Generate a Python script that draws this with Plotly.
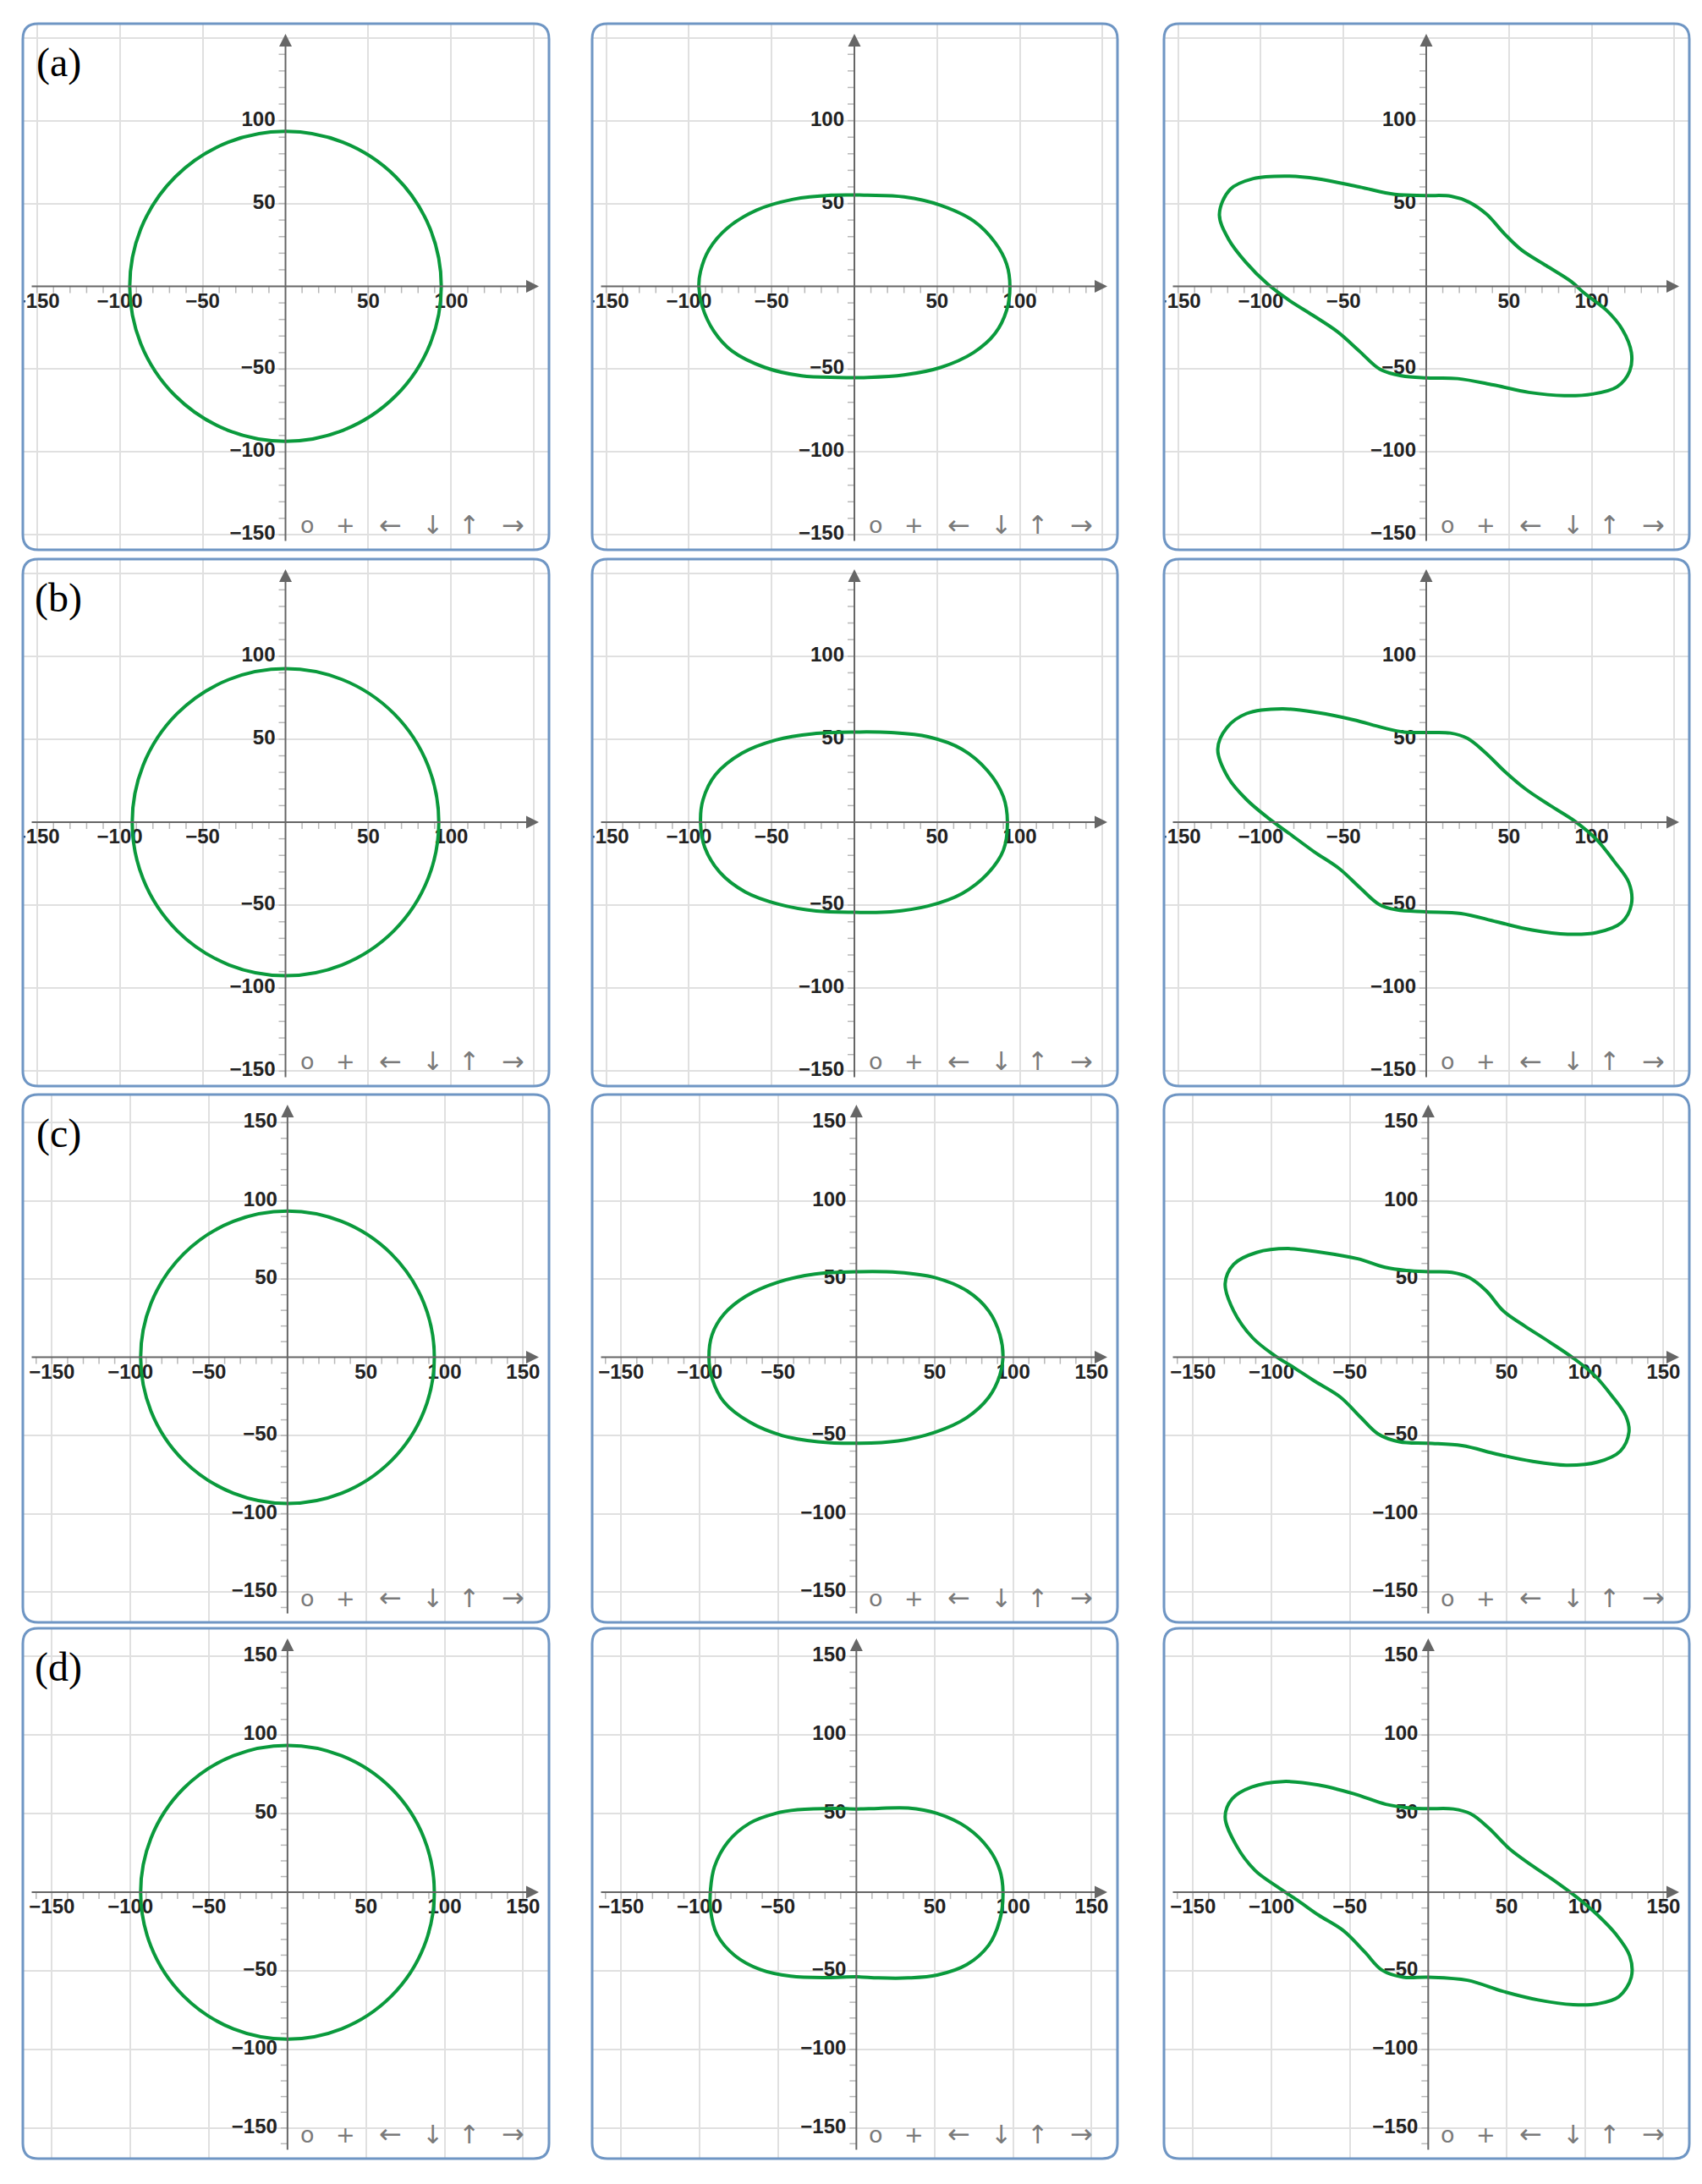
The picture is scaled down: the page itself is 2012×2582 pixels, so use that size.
import plotly.graph_objects as go

W, H = 2012, 2582
# the page body adds an 8px margin around the plot div, so the figure is drawn
# a little smaller and every pixel position is shifted by that margin
OFF = 8
FIG_W, FIG_H = W - 2 * OFF, H - 2 * OFF

# ---- values (GeoGebra units) ----
# left column: circles, rows (a)-(d)
circle_rx = [94, 92.5, 93.5, 93.5]
circle_ry = [93.5, 92.5, 93.5, 93.5]

# middle column
mid_a_x = [8, 30, 52, 72, 85, 92, 94, 92, 85, 72, 52, 30, 8, -10, -32, -54, -74, -85, -92, -94, -93, -88, -77, -59, -37, -14]
mid_a_y = [55, 54, 49, 39.5, 26.5, 13.5, 0, -14.5, -28.5, -40, -49, -53.5, -55, -55, -54, -49, -39, -27, -12, 0, 9, 22, 35, 46, 52.5, 55]

mid_b_x = [0, 22, 44.5, 65, 80.5, 90, 92.5, 90, 80.5, 65, 44.5, 22, 0, -23, -45.5, -66, -81.5, -90.5, -93, -91.5, -84, -68, -47.5, -25]
mid_b_y = [54.3, 54, 51.5, 44, 31, 15.5, 0, -17, -31, -43, -50.5, -54, -54.3, -53.5, -49.5, -42, -30, -15, 0, 13.5, 28.5, 41.5, 49.5, 53.3]

mid_c_x = [1, 26.5, 50, 70.5, 84.5, 91.5, 93.5, 91.5, 84.5, 70.5, 50, 26.5, 1, -24.5, -47.5, -68, -84.5, -92, -94, -92, -84.5, -70.5, -50, -26.5]
mid_c_y = [54.7, 54.3, 51, 42.5, 29.5, 14.5, 0, -11.5, -25.5, -38.5, -48, -53.5, -55, -54, -50, -41.5, -28.5, -13.5, 0, 14.5, 27.5, 39, 48, 53.2]

mid_d_x = [0, 14, 33, 51.5, 70.5, 84.5, 91.5, 93.5, 91.5, 84.5, 70.5, 51.5, 33, 14, 0, -19, -42, -61, -77.5, -89, -93, -93, -90.5, -82, -68, -51.5, -37.5, -14]
mid_d_y = [53, 53.4, 53.6, 50.2, 41.2, 27.6, 14, 0, -17.5, -33.5, -46, -52.7, -54.5, -54.5, -53.8, -54.3, -53.4, -49.3, -40.3, -26.7, -11, 2, 16.3, 32, 44, 50.2, 52.5, 53.4]

# right column
right_a_x = [-125, -118.5, -104.5, -85.5, -66, -40.5, -19, 0, 15, 25.5, 36.5, 47, 57.5, 72.5, 87.5, 96, 109, 118.5,
             124, 123, 115.5, 100.5, 83.5, 62, 40.5, 19, 0, -15, -28, -40.5, -53.5, -68.5, -83.5, -96, -109, -119.5]
right_a_y = [43.5, 58.5, 65, 66.5, 65, 60, 55.5, 54.8, 54.4, 51, 43.5, 32, 22, 12.5, 3, -4.5, -14.5, -26,
             -40, -51, -60.5, -65, -66, -64, -59.5, -55.7, -55.3, -54, -50, -39, -27.5, -17.5, -8, 1.5, 14.5, 28.5]

right_b_x = [-126, -120.5, -108.5, -87, -65.5, -44, -26.5, -13.5, 0, 14.5, 25, 36, 47, 60, 75, 90, 103, 113.5,
             122.5, 124, 118, 103, 85.5, 64, 42.5, 21, 0, -18, -28.5, -39.5, -52.5, -67.5, -82.5, -95.5, -108.5, -119.5]
right_b_y = [44, 57, 65.5, 68.3, 66, 61.7, 57, 54.3, 54, 53.7, 50.5, 41.7, 31, 20, 10, 0.5, -10.5, -23.5,
             -36.5, -49.5, -60.5, -66.5, -67.5, -65, -60, -55, -54, -52.8, -49.5, -40, -28, -18, -7, 2.5, 13.5, 26.5]

right_c_x = [-129.5, -124, -109.5, -89.5, -67.5, -45, -27.5, -14, 0, 15, 26, 37, 48, 61.5, 77, 92.5, 106, 117,
             126, 128, 122.5, 108, 88, 66, 44, 21.5, 0, -18.5, -32, -43, -56, -72, -85, -98.5, -112, -124]
right_c_y = [47, 59.5, 67, 69.5, 67, 63, 57.5, 55.5, 54.7, 54.3, 51, 42.5, 29.5, 20, 10, -0.5, -11.5, -24.5,
             -37.5, -48, -60, -67, -69, -66.5, -62, -56.5, -55, -54, -49, -38.5, -25.5, -15.5, -7, 1.5, 12.5, 29.5]

right_d_x = [-129.5, -125, -112.5, -92.5, -70, -47.5, -27, -11.5, 0, 16, 27, 38.5, 52, 65.5, 81, 94.5, 108, 119.5,
             128.5, 129.5, 121.5, 108, 92.5, 70, 47.5, 25, 0, -16, -29.5, -40.5, -54, -70, -83.5, -97, -110.5, -122.5]
right_d_y = [48, 59.5, 67, 70.5, 68.3, 62.7, 56, 53.6, 53.2, 53, 50, 41, 27.5, 17.5, 7, -3, -14.5, -26.5,
             -40.5, -54, -66.5, -71, -71.5, -68.5, -63, -56, -54, -54, -49.5, -38, -24.5, -14.5, -5, 4, 14, 30]

curves = [
    [None, (mid_a_x, mid_a_y), (right_a_x, right_a_y)],
    [None, (mid_b_x, mid_b_y), (right_b_x, right_b_y)],
    [None, (mid_c_x, mid_c_y), (right_c_x, right_c_y)],
    [None, (mid_d_x, mid_d_y), (right_d_x, right_d_y)],
]

row_letters = ['(a)', '(b)', '(c)', '(d)']

# axis ticks / labels
grid_vals = [-150, -100, -50, 50, 100, 150]
minor_ticks = [v for v in range(-160, 170, 10) if v != 0]
x_labels = [[-150, -100, -50, 50, 100], [-150, -100, -50, 50, 100], grid_vals, grid_vals]
y_labels = [[-150, -100, -50, 50, 100], [-150, -100, -50, 50, 100], grid_vals, grid_vals]

# visible window per row
row_xrange = [(-158.5, 159), (-158.5, 159), (-168.5, 166.5), (-168.5, 166.5)]
row_yrange = [(-159, 158.5), (-159, 158.5), (-169.5, 168), (-169.5, 168)]

toolbar = ['o', '+', '\u2190', '\u2193', '\u2191', '\u2192']

# ---- layout geometry (pixels of the final page) ----
col_px = [(27, 649), (700, 1321), (1376, 1997)]
row_px = [(28, 650), (661, 1284), (1294, 1918), (1925, 2552)]
toolbar_dx = [-286, -241, -188, -138, -95, -43]
toolbar_size = [27, 27, 32, 30, 30, 32]

GREEN = '#0a9a3c'
AXIS = '#666666'
GRID = '#e0e0e0'
BORDER = '#6f96c4'
LABEL_FONT = dict(family='Liberation Sans, Arial, sans-serif', size=24, color='#222222', weight='bold')


def px_x(p):
    return (p - OFF) / FIG_W


def px_y(p):
    return 1 - (p - OFF) / FIG_H


def fmt(v):
    return ('\u2212' + str(-v)) if v < 0 else str(v)


def rounded_rect(l, t, r, b, rad=18):
    X, Y = px_x, px_y
    return (f"M{X(l + rad)},{Y(t)} L{X(r - rad)},{Y(t)} Q{X(r)},{Y(t)} {X(r)},{Y(t + rad)} "
            f"L{X(r)},{Y(b - rad)} Q{X(r)},{Y(b)} {X(r - rad)},{Y(b)} "
            f"L{X(l + rad)},{Y(b)} Q{X(l)},{Y(b)} {X(l)},{Y(b - rad)} "
            f"L{X(l)},{Y(t + rad)} Q{X(l)},{Y(t)} {X(l + rad)},{Y(t)} Z")


fig = go.Figure()
annotations = []
shapes = []
axes_layout = {}

for r in range(4):
    top, bot = row_px[r]
    xr, yr = row_xrange[r], row_yrange[r]
    for c in range(3):
        left, right = col_px[c]
        k = r * 3 + c + 1
        sfx = '' if k == 1 else str(k)
        xa, ya = 'x' + sfx, 'y' + sfx
        sx = (right - left) / (xr[1] - xr[0])
        sy = (bot - top) / (yr[1] - yr[0])

        common = dict(tickvals=grid_vals, showticklabels=False, showgrid=True, gridcolor=GRID,
                      gridwidth=1.5, zeroline=False, showline=False, ticks='', fixedrange=True)
        axes_layout['xaxis' + sfx] = dict(domain=[px_x(left), px_x(right)], range=list(xr), anchor=ya, **common)
        axes_layout['yaxis' + sfx] = dict(domain=[px_y(bot), px_y(top)], range=list(yr), anchor=xa, **common)

        x_start, x_tip = xr[0] + 9 / sx, xr[1] - 12 / sx
        y_start, y_tip = yr[0] + 9 / sy, yr[1] - 12 / sy

        # small ticks along the axes
        tx, ty = [], []
        for t in minor_ticks:
            if x_start <= t <= x_tip - 10 / sx:
                tx += [t, t, None]
                ty += [0, -8 / sy, None]
            if y_start <= t <= y_tip - 10 / sy:
                tx += [0, -8 / sx, None]
                ty += [t, t, None]
        fig.add_trace(go.Scatter(x=tx, y=ty, mode='lines', line=dict(color='#b8b8b8', width=1.5),
                                 xaxis=xa, yaxis=ya, hoverinfo='skip', showlegend=False))

        # axes with arrowheads
        annotations.append(dict(x=x_tip, y=0, ax=x_start, ay=0, xref=xa, yref=ya, axref=xa, ayref=ya,
                                text='', showarrow=True, arrowhead=2, arrowsize=1.5, arrowwidth=2,
                                arrowcolor=AXIS))
        annotations.append(dict(x=0, y=y_tip, ax=0, ay=y_start, xref=xa, yref=ya, axref=xa, ayref=ya,
                                text='', showarrow=True, arrowhead=2, arrowsize=1.5, arrowwidth=2,
                                arrowcolor=AXIS))

        # tick labels
        xl, yl = x_labels[r], y_labels[r]
        fig.add_trace(go.Scatter(x=xl, y=[-19 / sy] * len(xl), text=[fmt(v) for v in xl], mode='text',
                                 textposition='middle center', textfont=LABEL_FONT, cliponaxis=True,
                                 xaxis=xa, yaxis=ya, hoverinfo='skip', showlegend=False))
        fig.add_trace(go.Scatter(x=[-12 / sx] * len(yl), y=yl, text=[fmt(v) for v in yl], mode='text',
                                 textposition='middle left', textfont=LABEL_FONT, cliponaxis=True,
                                 xaxis=xa, yaxis=ya, hoverinfo='skip', showlegend=False))

        # the curve
        if c == 0:
            shapes.append(dict(type='circle', xref=xa, yref=ya, x0=-circle_rx[r], x1=circle_rx[r],
                               y0=-circle_ry[r], y1=circle_ry[r], line=dict(color=GREEN, width=4),
                               layer='above'))
        else:
            cx, cy = curves[r][c]
            fig.add_trace(go.Scatter(x=cx + cx[:1], y=cy + cy[:1], mode='lines',
                                     line=dict(color=GREEN, width=4, shape='spline', smoothing=1),
                                     xaxis=xa, yaxis=ya, hoverinfo='skip', showlegend=False))

        # toolbar glyphs
        for g, dx, fs in zip(toolbar, toolbar_dx, toolbar_size):
            annotations.append(dict(x=px_x(right + dx), y=px_y(bot - 29), xref='paper', yref='paper',
                                    text=g, showarrow=False, xanchor='center', yanchor='middle',
                                    font=dict(family='DejaVu Sans, sans-serif', size=fs, color='#7a7a7a')))

        # panel frame
        shapes.append(dict(type='path', xref='paper', yref='paper', path=rounded_rect(left, top, right, bot),
                           line=dict(color=BORDER, width=3), layer='above'))

    annotations.append(dict(x=px_x(69), y=px_y(top + 46), xref='paper', yref='paper', text=row_letters[r],
                            showarrow=False, xanchor='center', yanchor='middle',
                            font=dict(family='Liberation Serif, Times New Roman, serif', size=48, color='black')))

fig.update_layout(**axes_layout)
fig.update_layout(width=FIG_W, height=FIG_H, margin=dict(l=0, r=0, t=0, b=0), autosize=False,
                  paper_bgcolor='white', plot_bgcolor='white', showlegend=False,
                  annotations=annotations, shapes=shapes)

fig.write_html("out.html")
